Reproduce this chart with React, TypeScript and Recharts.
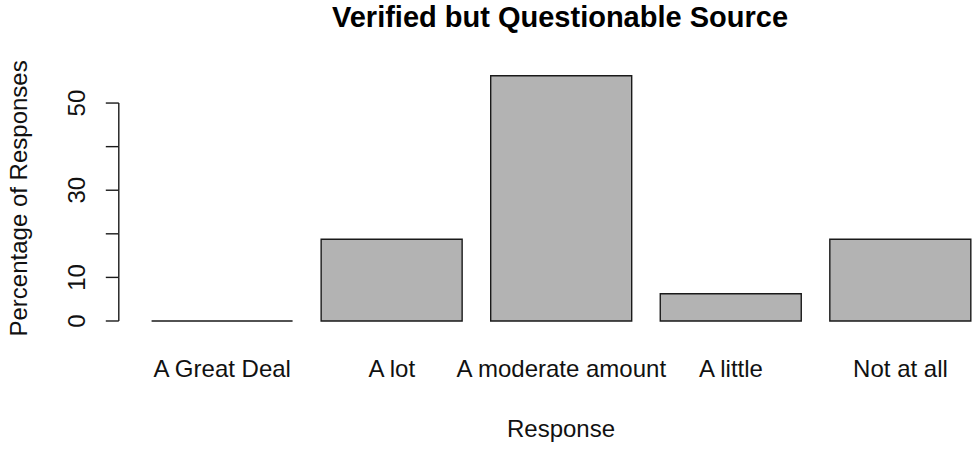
import { BarChart, Bar, XAxis, YAxis } from "recharts";

const categories = ["A Great Deal", "A lot", "A moderate amount", "A little", "Not at all"];
const percentages = [0, 18.75, 56.25, 6.25, 18.75];
const yTicks = [0, 10, 20, 30, 40, 50];
const yTickLabels = ["0", "10", "", "30", "", "50"];

const data = categories.map((response, i) => ({ response, pct: percentages[i] }));

const FONT = "'Liberation Sans', Arial, Helvetica, sans-serif";
const CHART_W = 1010;
const CHART_H = 451;
const MARGIN = { top: 66, right: 6.1, bottom: 60.2, left: 0 };
const X_AXIS_H = 60;
const Y_AXIS_W = 118.8;
const Y_DOMAIN: [number, number] = [-2.25, 58.5];
const TICK_LEN = 13;
const PLOT_H = CHART_H - MARGIN.top - MARGIN.bottom - X_AXIS_H;
const PX_PER_UNIT = PLOT_H / (Y_DOMAIN[1] - Y_DOMAIN[0]);

function BarShape(props: any) {
  const { x, y, width, height } = props;
  return (
    <path
      d={`M${x},${y}h${width}v${height}h${-width}Z`}
      fill="#b3b3b3"
      stroke="#1a1a1a"
      strokeWidth={1.4}
    />
  );
}

function YTick(props: any) {
  const { x, y, index, payload } = props;
  const axisX = x + TICK_LEN;
  const label = yTickLabels[yTicks.indexOf(payload.value)] ?? "";
  const last = index === yTicks.length - 1;
  const step = last ? 0 : (yTicks[index + 1] - yTicks[index]) * PX_PER_UNIT;
  return (
    <g>
      {!last && <line x1={axisX} x2={axisX} y1={y} y2={y - step} stroke="#1a1a1a" strokeWidth={1.4} />}
      <text
        x={85}
        y={y}
        transform={`rotate(-90, 85, ${y})`}
        textAnchor="middle"
        fontFamily={FONT}
        fontSize={24}
        fill="#111"
      >
        {label}
      </text>
    </g>
  );
}

function XTick(props: any) {
  const { x, y, payload } = props;
  return (
    <text x={x} y={y + 46} textAnchor="middle" fontFamily={FONT} fontSize={24} fill="#111">
      {payload.value}
    </text>
  );
}

export default function App() {
  return (
    <div style={{ position: "absolute", left: 0, top: 0, width: 980, height: 451, overflow: "hidden", background: "#fff" }}>
      <BarChart width={CHART_W} height={CHART_H} data={data} margin={MARGIN} barCategoryGap="8.3333%">
        <XAxis
          dataKey="response"
          height={X_AXIS_H}
          axisLine={false}
          tickLine={false}
          tickSize={0}
          tickMargin={0}
          padding={{ left: 18.65, right: 18.65 }}
          tick={<XTick />}
          interval={0}
        />
        <YAxis
          width={Y_AXIS_W}
          domain={Y_DOMAIN}
          ticks={yTicks}
          allowDataOverflow
          axisLine={false}
          tickSize={TICK_LEN}
          tickMargin={0}
          tickLine={{ stroke: "#1a1a1a", strokeWidth: 1.4 }}
          tick={<YTick />}
        />
        <Bar dataKey="pct" shape={<BarShape />} isAnimationActive={false} />
      </BarChart>
      <svg width={980} height={451} style={{ position: "absolute", left: 0, top: 0, pointerEvents: "none" }}>
        <text x={560} y={27} textAnchor="middle" fontFamily={FONT} fontWeight="bold" fontSize={29} fill="#000">
          Verified but Questionable Source
        </text>
        <text x={561} y={437} textAnchor="middle" fontFamily={FONT} fontSize={24} fill="#111">
          Response
        </text>
        <text x={27} y={198.4} transform="rotate(-90, 27, 198.4)" textAnchor="middle" fontFamily={FONT} fontSize={24} fill="#111">
          Percentage of Responses
        </text>
      </svg>
    </div>
  );
}
